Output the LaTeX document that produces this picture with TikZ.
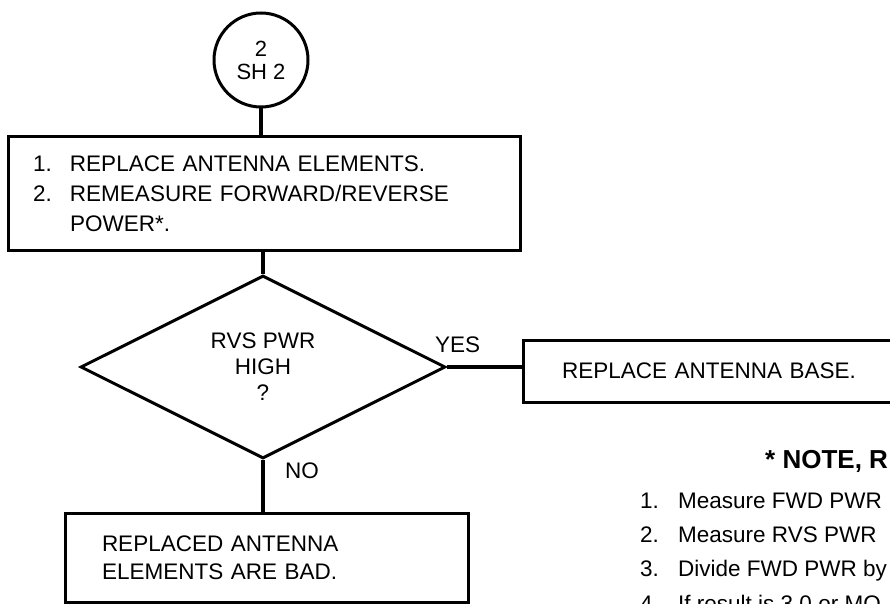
\documentclass[tikz,border=0pt]{standalone}
\usepackage{fontspec}
\setmainfont{Liberation Sans}
\usetikzlibrary{shapes.geometric}

\begin{document}
\begin{tikzpicture}[
    x=1pt, y=-1pt,
    txt/.style={font=\fontsize{22.5}{30}\selectfont},
    box/.style={draw, line width=3pt, align=left, inner sep=0pt, txt},
    dec/.style={draw, diamond, line width=3pt, align=center, inner sep=0pt,
    minimum width=365pt, minimum height=183pt, font=\fontsize{22.5}{26}\selectfont},
    conn/.style={draw, circle, line width=3pt, align=center, inner sep=0pt,
    minimum size=94pt, font=\fontsize{22}{23}\selectfont},
    line/.style={line width=3.6pt}
]
\clip (0,0) rectangle (890,604);
\node[conn] (sheet) at (261,60) {2\\SH 2};
\node[box, minimum width=512pt, minimum height=113pt, text width=462pt] (remeas) at (264,193.5)
    {\makebox[37pt][l]{1.}REPLACE ANTENNA ELEMENTS.\\
     \makebox[37pt][l]{2.}REMEASURE FORWARD/REVERSE\\
     \hspace*{37pt}POWER*.};
\node[dec] (rvs) at (263,367) {RVS PWR\\HIGH\\?};
\node[box, minimum width=420pt, minimum height=62pt, text width=342pt] (base) at (733,371)
    {REPLACE ANTENNA BASE.};
\node[box, minimum width=403pt, minimum height=89pt, text width=329pt,
    font=\fontsize{22.5}{28}\selectfont] (bad) at (266.5,557.5)
    {REPLACED ANTENNA\\ELEMENTS ARE BAD.};
\node[txt, anchor=base west, inner sep=0pt] (yes) at (435,352) {YES};
\node[txt, anchor=base west, inner sep=0pt] (no) at (285,478) {NO};
% note
\node[anchor=base west, inner sep=0pt, font=\fontsize{26}{30}\selectfont\bfseries] (note) at (765,468) {* NOTE, R};
\foreach \t [count=\i] in {Measure FWD PWR, Measure RVS PWR, Divide FWD PWR by, If result is 3.0 or MO}
{
    \node[txt, anchor=base west, inner sep=0pt] (num\i) at (640,{508+(\i-1)*34.4}) {\i.};
    \node[txt, anchor=base west, inner sep=0pt] (item\i) at (678,{508+(\i-1)*34.4}) {\t};
}
\draw[line] (sheet.south) -- (sheet.south |- remeas.north);
\draw[line] (remeas.south -| rvs.north) -- (rvs.north);
\draw[line] (rvs.east) -- (rvs.east -| base.west);
\draw[line] (rvs.south) -- (rvs.south |- bad.north);
\end{tikzpicture}
\end{document}
